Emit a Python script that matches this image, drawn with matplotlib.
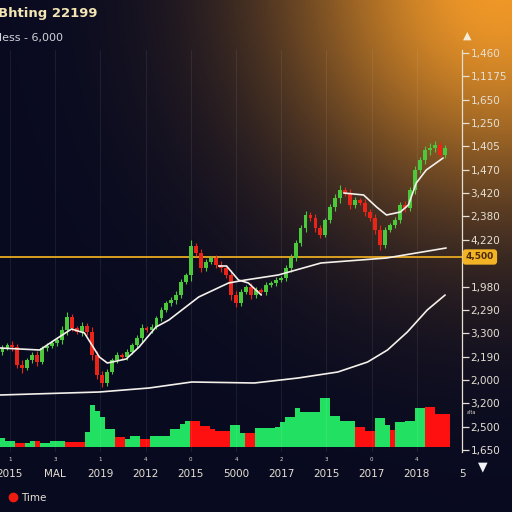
import numpy as np
import matplotlib
matplotlib.use("Agg")
import matplotlib.pyplot as plt
from matplotlib.lines import Line2D

# candle closes (price index), one per session
close = [104, 107, 105, 87, 84, 92, 97, 90, 104, 106,
         109, 112, 122, 135, 124, 120, 126, 120, 97, 77,
         69, 80, 92, 97, 95, 100, 107, 114, 124, 122,
         125, 134, 142, 149, 152, 157, 170, 177, 206, 199,
         184, 190, 194, 187, 184, 177, 157, 149, 160, 165,
         157, 162, 160, 167, 169, 172, 174, 184, 194, 209,
         224, 237, 234, 224, 217, 232, 245, 254, 262, 259,
         247, 252, 249, 240, 234, 222, 207, 222, 227, 232,
         247, 244, 262, 282, 292, 302, 304, 307, 297, 304]
first_open = 100
wick = [3, 2, 4, 3, 5, 2, 3, 4, 2, 3, 2, 3, 4, 5, 3, 2, 4, 3, 5, 4,
        4, 3, 2, 3, 2, 3, 2, 3, 4, 2, 3, 2, 3, 2, 3, 4, 3, 2, 6, 3,
        4, 3, 2, 3, 4, 3, 5, 4, 3, 2, 4, 3, 2, 3, 2, 3, 2, 3, 4, 3,
        3, 4, 3, 4, 3, 2, 3, 4, 5, 3, 4, 3, 2, 4, 3, 4, 5, 3, 2, 3,
        3, 4, 3, 4, 3, 4, 5, 4, 3, 3]

volume = [9, 6, 6, 4, 4, 4, 6, 6, 4, 4, 6, 6, 6, 5, 5, 5, 5, 15, 42, 36,
          30, 18, 18, 10, 10, 8, 11, 11, 8, 8, 11, 11, 11, 11, 18, 18, 23, 26, 26, 26,
          21, 21, 18, 16, 16, 16, 22, 22, 14, 14, 14, 19, 19, 19, 19, 20, 25, 30, 30, 39,
          35, 35, 35, 35, 49, 49, 31, 31, 26, 26, 26, 20, 20, 16, 16, 29, 29, 22, 17, 25,
          25, 26, 26, 39, 39, 40, 40, 33, 33, 33]
vol_up = [1, 1, 1, 0, 0, 1, 1, 0, 1, 1, 1, 1, 1, 0, 0, 0, 0, 1, 1, 1,
          1, 1, 1, 0, 0, 1, 1, 1, 0, 0, 1, 1, 1, 1, 1, 1, 1, 1, 0, 0,
          0, 0, 0, 0, 0, 0, 1, 1, 1, 0, 0, 1, 1, 1, 1, 1, 1, 1, 1, 1,
          1, 1, 1, 1, 1, 1, 1, 1, 1, 1, 1, 0, 0, 0, 0, 1, 1, 1, 0, 1,
          1, 1, 1, 1, 1, 0, 0, 0, 0, 0]

# moving averages (sparse readings)
ma_mid_x = [-0.5, 7.5, 10.5, 13.9, 16.5, 19.5, 21.1, 24.9, 27.5, 30.9, 33.5, 39.5, 45.5, 48.9, 55.5, 64.1, 77.3, 89.3]
ma_mid_y = [104, 102, 112, 123, 119, 95, 89, 93, 105, 125, 132, 155, 169, 172, 177, 189, 194, 204]
ma_fast_a_x = [43.5, 45.1, 47.5, 49.5, 52.1]
ma_fast_a_y = [186, 186, 172, 169, 157]
ma_fast_b_x = [68.7, 72.7, 75.3, 77.3, 80.1, 81.7, 83.3, 85.3, 88.7]
ma_fast_b_y = [259, 257, 245, 237, 240, 247, 269, 282, 294]
ma_slow_x = [-0.5, 19.5, 29.5, 38.1, 50.7, 59.5, 67.5, 73.5, 77.5, 81.5, 85.5, 89.1]
ma_slow_y = [57, 60, 64, 70, 69, 74, 80, 90, 102, 120, 142, 157]

level = 195
level_label = "4,500"

right_labels = ["1,460", "1,1175", "1,650", "1,250", "1,405", "1,470", "3,420", "2,380", "4,220",
                "1,980", "2,290", "3,300", "2,190", "2,000", "3,200", "2,500", "1,650"]
x_labels = ["2015", "MAL", "2019", "2012", "2015", "5000", "2017", "2015", "2017", "2018", "5"]
x_small = ["1", "3", "1", "4", "0", "4", "2", "3", "0", "4"]

GREEN = "#4cc83c"
RED = "#ea2418"
VGREEN = "#22e062"
VRED = "#ff1010"
TXT = "#e6e0d4"

fig = plt.figure(figsize=(5.12, 5.12), dpi=100)
fig.patch.set_facecolor("#080a20")

# background with warm glow in the top right corner
bg = fig.add_axes([0, 0, 1, 1], zorder=0)
yy, xx = np.mgrid[0:256, 0:256] * 2.0
d = np.hypot(xx - 500, yy + 15)
w = np.exp(-(d / 220.0) ** 2)
base = np.array([8, 10, 32]) / 255
glow = np.array([240, 152, 40]) / 255
img = base + (glow - base) * w[..., None]
bg.imshow(img, extent=[0, 1, 0, 1], aspect="auto", origin="upper")
bg.axis("off")

n = len(close)
idx = np.arange(n)
c = np.array(close, dtype=float)
o = np.r_[first_open, c[:-1]]
up = c >= o

ax = fig.add_axes([0, (512 - 452) / 512, 462 / 512, 402 / 512], zorder=2)
ax.set_facecolor("none")
ax.set_xlim(-0.5, 91.9)
ax.set_ylim(0, 402)

# volume on its own axes
vax = fig.add_axes([0, (512 - 447) / 512, 462 / 512, 102 / 512], zorder=1)
vax.set_facecolor("none")
vax.set_xlim(-0.5, 91.9)
vax.set_ylim(0, 102)
vcols = [VGREEN if u else VRED for u in vol_up]
vax.bar(idx, volume, width=1.0, color=vcols, linewidth=0)
vax.axis("off")

# grid
ticks_x = np.arange(len(x_labels)) * 9.1 + 1.5
for t in ticks_x:
    ax.axvline(t, color="white", alpha=0.07, lw=0.8, zorder=0)

# candles
hi = np.maximum(o, c) + np.array(wick)
lo = np.minimum(o, c) - np.array(wick)
cols = np.where(up, GREEN, RED)
ax.vlines(idx, lo, hi, colors=cols, lw=0.8, zorder=3)
body = np.maximum(np.abs(c - o), 2)
ax.bar(idx, body, bottom=np.minimum(o, c), width=0.78, color=cols, linewidth=0, zorder=4)

# moving averages
ma_kw = dict(color="#f4f0ea", lw=1.2, zorder=5, solid_capstyle="round")
ax.plot(ma_mid_x, ma_mid_y, **ma_kw)
ax.plot(ma_fast_a_x, ma_fast_a_y, **ma_kw)
ax.plot(ma_fast_b_x, ma_fast_b_y, **ma_kw)
ax.plot(ma_slow_x, ma_slow_y, **ma_kw)

# horizontal level
ax.axhline(level, color="#d8a020", lw=1.4, zorder=2)
ax.text(1.008, level, level_label, transform=ax.get_yaxis_transform(), ha="left", va="center",
        fontsize=6.5, color="#4a2a08", fontweight="bold",
        bbox=dict(boxstyle="round,pad=0.35", fc="#f2b324", ec="none"), clip_on=False, zorder=6)

# right axis
for s in ["top", "left", "bottom"]:
    ax.spines[s].set_visible(False)
ax.spines["right"].set_color(TXT)
ax.spines["right"].set_linewidth(0.9)
yt = np.linspace(2, 399, 18)
yt = np.r_[yt[:8], yt[9:]]
ax.yaxis.tick_right()
ax.set_yticks(yt)
ax.set_yticklabels(right_labels[::-1])
ax.tick_params(axis="y", direction="out", length=5, width=0.9, colors=TXT, labelsize=7.5, pad=1)
ax.text(1.01, 0.095, "alta", transform=ax.transAxes, fontsize=3.5, color=TXT)

# x axis labels
ax.set_xticks(ticks_x)
ax.set_xticklabels(x_labels)
ax.tick_params(axis="x", length=0, colors=TXT, labelsize=7.5, pad=12)
for t, s in zip(ticks_x, x_small):
    ax.text(t, -0.018, s, transform=ax.get_xaxis_transform(), ha="center", va="center",
            fontsize=4, color=TXT)

# arrows
fig.text(467 / 512, 1 - 36 / 512, "\u25b2", ha="center", va="center", fontsize=8, color="#f4ecd8")
fig.text(483 / 512, 1 - 467 / 512, "\u25bc", ha="center", va="center", fontsize=9, color="#f4f4f4")

# titles
fig.text(-0.004, 1 - 14 / 512, "Bhting 22199", ha="left", va="center", fontsize=9.5,
         fontweight="bold", color="#f3e6b4")
fig.text(-0.002, 1 - 38 / 512, "less - 6,000", ha="left", va="center", fontsize=8, color="#d2d2da")

# legend
fig.legend(handles=[Line2D([], [], marker="o", ls="", color="#ee1c10", markersize=6)], labels=["Time"],
           loc="center left", bbox_to_anchor=(-0.005, 1 - 498 / 512), frameon=False,
           fontsize=7.5, labelcolor=TXT, handletextpad=0.2, handlelength=1.2)

fig.savefig("out.png", dpi=100, facecolor=fig.get_facecolor())
